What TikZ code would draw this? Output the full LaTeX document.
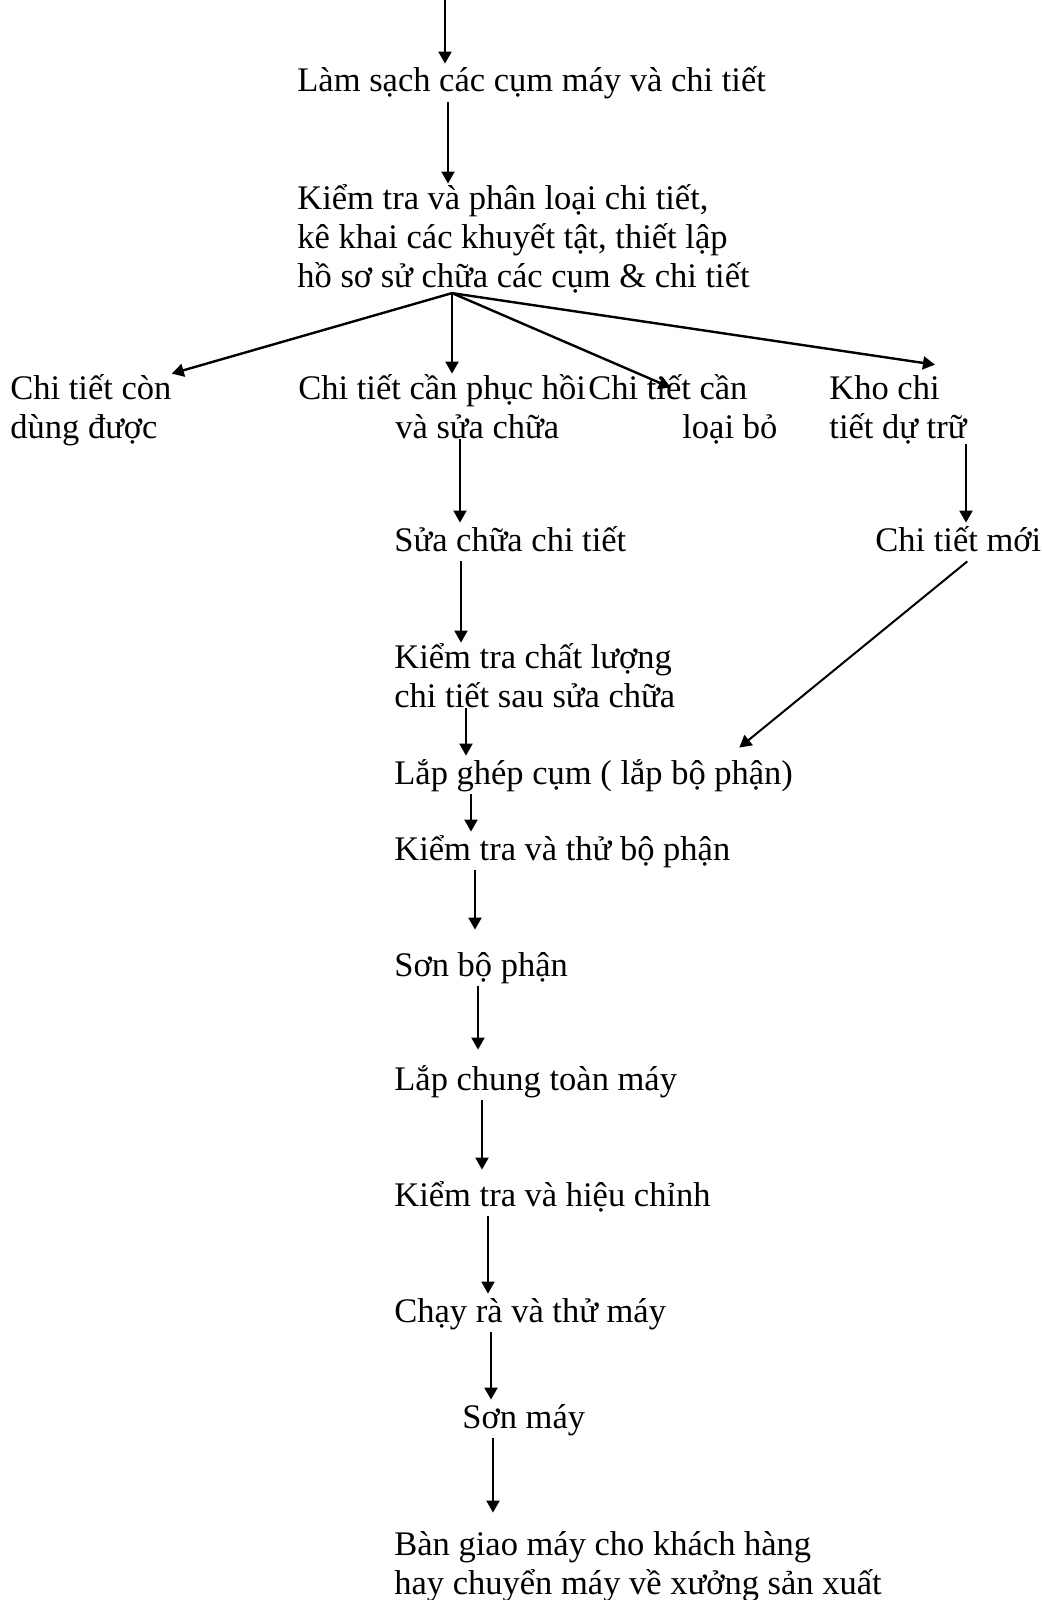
\documentclass[tikz,border=0pt]{standalone}
\usepackage{fontspec}
\setmainfont{Liberation Serif}
\usetikzlibrary{arrows.meta}

\begin{document}
\begin{tikzpicture}[
  x=0.5pt, y=-0.5pt,
  stage/.style={anchor=base west, inner sep=0pt,
                font=\fontsize{17.25pt}{19.5pt}\selectfont,
                text height=14pt, text depth=5pt},
  stages/.style={anchor=base west, inner sep=0pt, align=left,
                 font=\fontsize{17.25pt}{19.5pt}\selectfont},
  arr/.style={-{Triangle[length=6pt, width=6.5pt]}, line width=1pt}
]
  \useasboundingbox (0,0) rectangle (1041,1600);

  % main column (multi-line nodes sit on their last line)
  \node[stage]  (lamsach) at (297,92)  {Làm sạch các cụm máy và chi tiết};
  \node[stages] (kiemtra) at (297,287) {Kiểm tra và phân loại chi tiết,\\
                                        kê khai các khuyết tật, thiết lập\\
                                        hồ sơ sử chữa các cụm \& chi tiết};

  % branches
  \node[stages] (con)     at (10,438)  {Chi tiết còn\\dùng được};
  \node[stages] (phuchoi) at (298,438) {Chi tiết cần phục hồi\\\hspace*{48.5pt}và sửa chữa};
  \node[stages] (loaibo)  at (588,438) {Chi tiết cần\\\hspace*{47pt}loại bỏ};
  \node[stages] (kho)     at (829,438) {Kho chi\\tiết dự trữ};

  \node[stage]  (suachua)   at (394,551)  {Sửa chữa chi tiết};
  \node[stage]  (moi)       at (875,551)  {Chi tiết mới};
  \node[stages] (chatluong) at (394,707)  {Kiểm tra chất lượng\\chi tiết sau sửa chữa};
  \node[stage]  (lapghep)   at (394,784)  {Lắp ghép cụm ( lắp bộ phận)};
  \node[stage]  (thubp)     at (394,860)  {Kiểm tra và thử bộ phận};
  \node[stage]  (sonbp)     at (394,976)  {Sơn bộ phận};
  \node[stage]  (lapchung)  at (394,1090) {Lắp chung toàn máy};
  \node[stage]  (hieuchinh) at (394,1206) {Kiểm tra và hiệu chỉnh};
  \node[stage]  (chayra)    at (394,1322) {Chạy rà và thử máy};
  \node[stage]  (sonmay)    at (462,1428) {Sơn máy};
  \node[stages] (bangiao)   at (394,1594) {Bàn giao máy cho khách hàng\\
                                           hay chuyển máy về xưởng sản xuất};

  % connectors
  \coordinate (top) at (445,0);
  \draw[arr] (top) -- (lamsach.north -| top);
  \draw[arr] (lamsach.south -| 448,0) -- (kiemtra.north -| 448,0);

  \coordinate (fan) at (kiemtra.south -| 452,0);
  \draw[arr, line width=1.2pt] (fan) -- (con.north east);
  \draw[arr] (fan) -- (phuchoi.north -| fan);
  \draw[arr, line width=1.2pt] (fan) -- ([xshift=-6pt,yshift=-7pt]loaibo.north);
  \draw[arr, line width=1.2pt] (fan) -- ([xshift=18.5pt,yshift=5pt]kho.north);

  \draw[arr] (phuchoi.south -| 460,0) -- (suachua.north -| 460,0);
  \draw[arr] (kho.south -| 966,0) -- (moi.north -| 966,0);
  \draw[arr] (suachua.south -| 461,0) -- (chatluong.north -| 461,0);
  \draw[arr] ([xshift=4.5pt]moi.south) -- ([xshift=-27pt,yshift=4pt]lapghep.north east);
  \draw[arr] (chatluong.south -| 466,0) -- (lapghep.north -| 466,0);

  \foreach \a/\b/\x/\s in {lapghep/thubp/471/0, thubp/sonbp/475/9, sonbp/lapchung/478/6,
                           lapchung/hieuchinh/482/4, hieuchinh/chayra/488/0,
                           chayra/sonmay/491/0, sonmay/bangiao/493/9}
    \draw[arr, shorten >=\s pt] (\a.south -| \x,0) -- (\b.north -| \x,0);
\end{tikzpicture}
\end{document}
